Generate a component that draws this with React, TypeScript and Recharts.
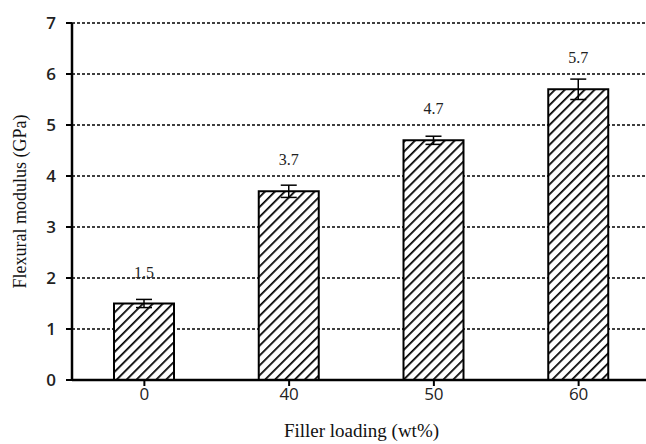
import React from "react";
import {
  BarChart,
  Bar,
  XAxis,
  YAxis,
  CartesianGrid,
  ErrorBar,
  LabelList,
} from "recharts";

const loadings = ["0", "40", "50", "60"];
const modulus = [1.5, 3.7, 4.7, 5.7];
const modulusErr = [0.08, 0.12, 0.08, 0.2];
const yTicks = [0, 1, 2, 3, 4, 5, 6, 7];

const data = loadings.map((name, i) => ({
  name,
  value: modulus[i],
  err: modulusErr[i],
}));

const sans = "'Open Sans', sans-serif";
const serif = "'Liberation Serif', 'DejaVu Serif', serif";

export default function App() {
  return (
    <div style={{ position: "absolute", left: 0, top: 0, background: "#fff" }}>
      <BarChart
        width={646}
        height={444}
        data={data}
        margin={{ top: 23, right: -5, bottom: 0, left: 0 }}
      >
        <defs>
          <pattern
            id="hatch"
            width="7"
            height="7"
            patternUnits="userSpaceOnUse"
            patternTransform="rotate(45)"
          >
            <rect width="7" height="7" fill="#fff" />
            <line x1="0" y1="0" x2="0" y2="7" stroke="#000" strokeWidth="3.5" />
          </pattern>
        </defs>
        <CartesianGrid
          horizontal
          vertical={false}
          stroke="#000"
          strokeDasharray="3 2"
          strokeWidth={1.5}
        />
        <XAxis
          dataKey="name"
          axisLine={{ stroke: "#000", strokeWidth: 2.5 }}
          tickLine={{ stroke: "#000", strokeWidth: 2 }}
          tickSize={6}
          height={64}
          tick={{ fill: "#222", fontSize: 17, fontFamily: sans }}
          label={{
            value: "Filler loading (wt%)",
            position: "insideBottom",
            offset: 7,
            fill: "#111",
            fontSize: 19,
            fontFamily: serif,
          }}
        />
        <YAxis
          domain={[0, 7]}
          ticks={yTicks}
          width={72}
          axisLine={{ stroke: "#000", strokeWidth: 2.5 }}
          tickLine={{ stroke: "#000", strokeWidth: 2 }}
          tickSize={6}
          tickMargin={10}
          tick={{ fill: "#222", fontSize: 17, fontFamily: sans, fontWeight: 600 }}
          label={{
            value: "Flexural modulus (GPa)",
            angle: -90,
            position: "insideLeft",
            offset: 20,
            style: { textAnchor: "middle" },
            fill: "#111",
            fontSize: 18,
            fontFamily: serif,
          }}
        />
        <Bar
          dataKey="value"
          barSize={60}
          fill="url(#hatch)"
          stroke="#000"
          strokeWidth={2}
          isAnimationActive={false}
        >
          <ErrorBar dataKey="err" width={8} stroke="#000" strokeWidth={1.5} direction="y" />
          <LabelList
            dataKey="value"
            position="top"
            offset={26}
            fill="#222"
            fontSize={16}
            fontFamily={serif}
          />
        </Bar>
      </BarChart>
    </div>
  );
}
